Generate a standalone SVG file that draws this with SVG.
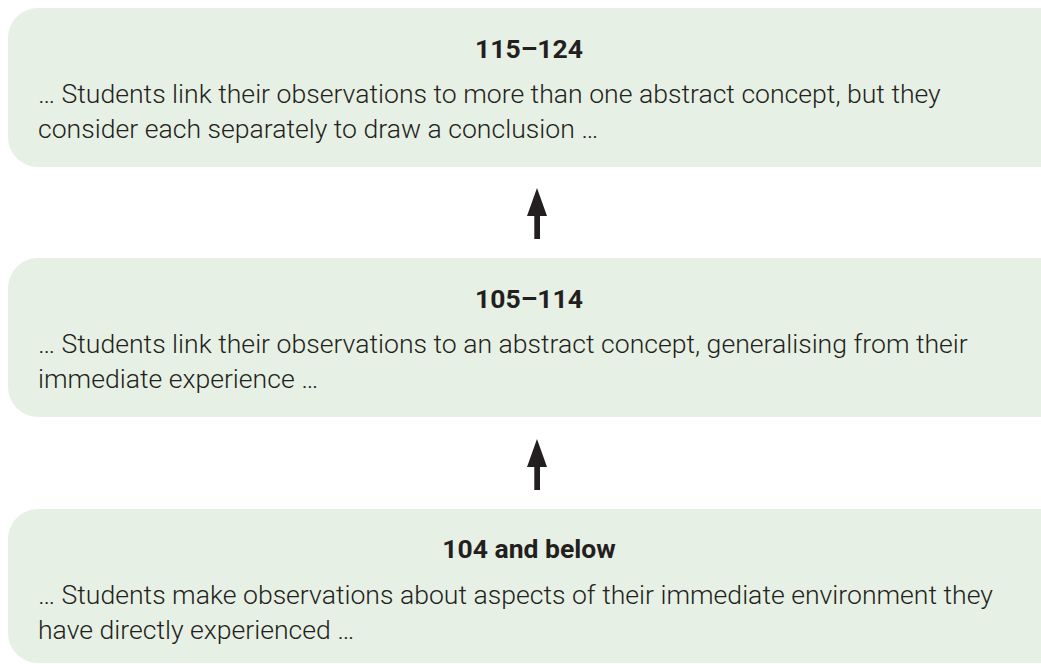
<svg xmlns="http://www.w3.org/2000/svg" width="1041" height="664" viewBox="0 0 1041 664">
<style>
.box{fill:#e7f0e4}
.title{font-family:Roboto,"Liberation Sans",sans-serif;font-weight:700;font-size:26.5px;fill:#231f20;text-anchor:middle}
.body{font-family:Roboto,"Liberation Sans",sans-serif;font-weight:300;font-size:26.6px;fill:#231f20}
.arrow{fill:#231f20}
</style>
<rect width="1041" height="664" fill="#fff"/>
<g id="node-top">
<rect class="box" x="8" y="8" width="1070" height="159" rx="30"/>
<text class="title" x="529" y="58">115–124</text>
<text class="body" x="38" y="103">… Students link their observations to more than one abstract concept, but they</text>
<text class="body" x="38" y="138">consider each separately to draw a conclusion …</text>
</g>
<g id="node-mid">
<rect class="box" x="8" y="258" width="1070" height="159" rx="30"/>
<text class="title" x="529" y="308">105–114</text>
<text class="body" x="38" y="353">… Students link their observations to an abstract concept, generalising from their</text>
<text class="body" x="38" y="388">immediate experience …</text>
</g>
<g id="node-bottom">
<rect class="box" x="8" y="509" width="1070" height="154" rx="30"/>
<text class="title" x="529" y="558">104 and below</text>
<text class="body" x="38" y="604">… Students make observations about aspects of their immediate environment they</text>
<text class="body" x="38" y="639">have directly experienced …</text>
</g>
<g id="connectors">
<path class="arrow" d="M537 188 L547 216 L540 216 L540 239 L534.3 239 L534.3 216 L527 216 Z"/>
<path class="arrow" d="M537 439 L547 467 L540 467 L540 490 L534.3 490 L534.3 467 L527 467 Z"/>
</g>
</svg>
